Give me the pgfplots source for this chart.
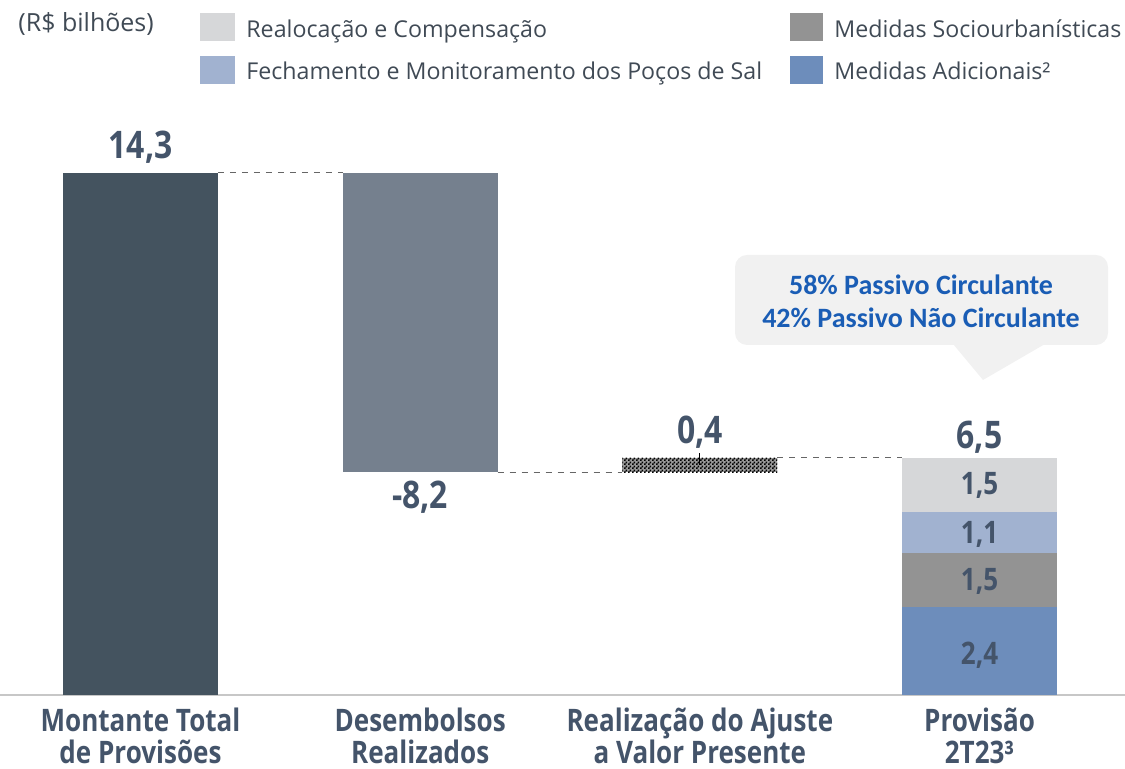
\documentclass[border=0pt]{standalone}
\usepackage{fontspec}
\usepackage{pgfplots}
\pgfplotsset{compat=1.18}
\usetikzlibrary{patterns}
\pgfdeclarepatternformonly{checker}{\pgfpointorigin}{\pgfpoint{2pt}{2pt}}{\pgfpoint{2pt}{2pt}}{%
  \pgfpathrectangle{\pgfpointorigin}{\pgfpoint{1pt}{1pt}}%
  \pgfpathrectangle{\pgfpoint{1pt}{1pt}}{\pgfpoint{1pt}{1pt}}%
  \pgfusepath{fill}}
\setmainfont{Open Sans}
\newfontfamily\osc[FakeStretch=0.84]{Open Sans}
\newfontfamily\ops{Open Sans}
\newfontfamily\carl{Carlito}
\definecolor{cTot}{HTML}{44535F}
\definecolor{cDes}{HTML}{75808E}
\definecolor{cAdi}{HTML}{6D8DBB}
\definecolor{cSoc}{HTML}{939393}
\definecolor{cFec}{HTML}{A1B2D0}
\definecolor{cRea}{HTML}{D6D7D9}
\definecolor{cLab}{HTML}{44546A}
\definecolor{cLeg}{HTML}{404A55}
\definecolor{cBlue}{HTML}{1A5DB5}
\definecolor{cBox}{HTML}{F1F1F1}
\newcommand{\PX}[2]{({#1*0.5pt},{(769-#2)*0.5pt})}
\tikzset{
  bigv/.style={font=\osc\bfseries\fontsize{19}{21}\selectfont, text=cLab},
  smallv/.style={font=\osc\bfseries\fontsize{15.5}{17}\selectfont, text=cLab},
  leg/.style={font=\ops\fontsize{11.6}{14}\selectfont, text=cLeg, anchor=base west},
}
\begin{document}
\begin{tikzpicture}
\useasboundingbox (0,0) rectangle (562.5pt,384.5pt);
% callout
\fill[cBox, rounded corners=6pt] \PX{735}{255} rectangle \PX{1108}{345};
\fill[cBox] \PX{953}{344} -- \PX{1045}{344} -- \PX{983}{380} -- cycle;
\node[font=\carl\bfseries\fontsize{14}{16.5}\selectfont, text=cBlue, align=center] at \PX{921}{301}
  {58\% Passivo Circulante\\42\% Passivo Não Circulante};
% legend
\node[font=\ops\fontsize{12.5}{14}\selectfont, text=cLeg, anchor=base west, inner sep=0pt] at \PX{18}{32} {(R\$ bilhões)};
\fill[cRea] \PX{200}{13} rectangle \PX{235}{41};
\fill[cFec] \PX{200}{56} rectangle \PX{235}{84};
\fill[cSoc] \PX{790}{13} rectangle \PX{823}{41};
\fill[cAdi] \PX{790}{56} rectangle \PX{823}{84};
\node[leg, inner sep=0pt] at \PX{246}{38} {Realocação e Compensação};
\node[leg, inner sep=0pt] at \PX{246}{80} {Fechamento e Monitoramento dos Poços de Sal};
\node[leg, inner sep=0pt] at \PX{834}{38} {Medidas Sociourbanísticas};
\node[leg, inner sep=0pt] at \PX{834}{80} {Medidas Adicionais²};
\begin{axis}[
  at={(0pt,37pt)}, anchor=south west,
  width=562.5pt, height=297.5pt, scale only axis,
  xmin=-0.5024, xmax=3.520, ymin=0, ymax=16.30,
  ybar stacked, bar width=77.5pt,
  axis y line=none,
  axis x line*=bottom,
  x axis line style={draw=black!22, line width=1.2pt, -},
  xtick={0,1,2,3}, major tick length=0pt,
  xticklabels={Montante Total\\de Provisões, Desembolsos\\Realizados, Realização do Ajuste\\a Valor Presente, Provisão\\2T23³},
  xticklabel style={align=center, font=\osc\bfseries\fontsize{15.5}{16.2}\selectfont, text=cLab, inner sep=0pt, yshift=-6.2pt},
  clip=false,
]
\addplot[draw=none, fill=white, fill opacity=0] coordinates {(0,0) (1,6.1) (2,6.1) (3,0)};
\addplot[draw=none, fill=cTot] coordinates {(0,14.3) (1,0) (2,0) (3,0)};
\addplot[draw=none, fill=cDes] coordinates {(0,0) (1,8.2) (2,0) (3,0)};
\addplot[draw=none, fill=black!40, postaction={pattern=checker, pattern color=black}] coordinates {(0,0) (1,0) (2,0.4) (3,0)};
\addplot[draw=none, fill=cAdi] coordinates {(0,0) (1,0) (2,0) (3,2.4)};
\addplot[draw=none, fill=cSoc] coordinates {(0,0) (1,0) (2,0) (3,1.5)};
\addplot[draw=none, fill=cFec] coordinates {(0,0) (1,0) (2,0) (3,1.1)};
\addplot[draw=none, fill=cRea] coordinates {(0,0) (1,0) (2,0) (3,1.5)};
\draw[dashed, black!60, line width=0.5pt] (axis cs:0.277,14.3) -- (axis cs:0.723,14.3);
\draw[dashed, black!60, line width=0.5pt] (axis cs:1.277,6.1) -- (axis cs:1.723,6.1);
\draw[dashed, black!60, line width=0.5pt] (axis cs:2.277,6.5) -- (axis cs:2.723,6.5);
\coordinate (t1) at (axis cs:2,6.3);
\coordinate (t2) at (axis cs:2,6.62);
\coordinate (v1) at (axis cs:0,15.01);
\coordinate (v2) at (axis cs:1,5.42);
\coordinate (v3) at (axis cs:2,7.2);
\coordinate (v4) at (axis cs:3,7.07);
\coordinate (s1) at (axis cs:3,5.73);
\coordinate (s2) at (axis cs:3,4.41);
\coordinate (s3) at (axis cs:3,3.1);
\coordinate (s4) at (axis cs:3,1.1);
\end{axis}
\draw[black, line width=0.6pt] (t1) -- (t2);
\node[bigv] at (v1) {14,3};
\node[bigv] at (v2) {-8,2};
\node[bigv] at (v3) {0,4};
\node[bigv] at (v4) {6,5};
\node[smallv] at (s1) {1,5};
\node[smallv] at (s2) {1,1};
\node[smallv] at (s3) {1,5};
\node[smallv] at (s4) {2,4};
\end{tikzpicture}
\end{document}
